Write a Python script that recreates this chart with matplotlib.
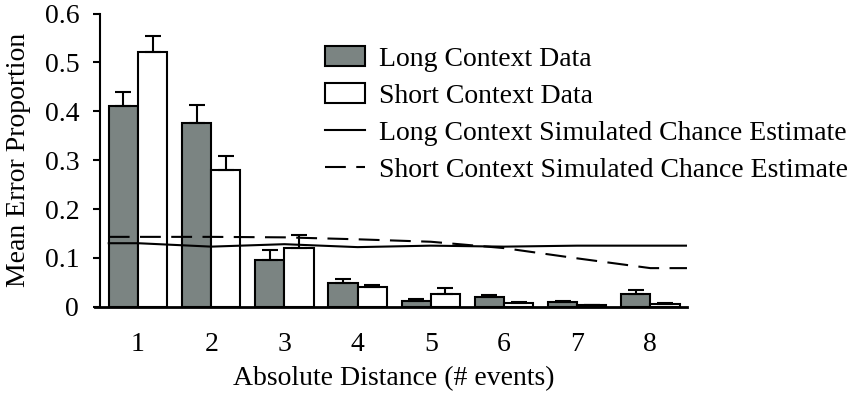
import numpy as np
import matplotlib
matplotlib.use('Agg')
import matplotlib.pyplot as plt

plt.rcParams['font.family'] = ['Liberation Serif', 'DejaVu Serif']

# Data
distance = [1, 2, 3, 4, 5, 6, 7, 8]
long_data = [0.411, 0.377, 0.096, 0.048, 0.012, 0.020, 0.009, 0.026]
long_err = [0.028, 0.036, 0.020, 0.009, 0.003, 0.003, 0.003, 0.009]
short_data = [0.521, 0.279, 0.121, 0.040, 0.027, 0.007, 0.003, 0.005]
short_err = [0.034, 0.030, 0.026, 0.004, 0.011, 0.002, 0.001, 0.002]

# Simulated chance estimates (extended to the plot edges)
sim_x = [0.6, 1, 2, 3, 4, 5, 6, 7, 8, 8.5]
long_sim = [0.130, 0.130, 0.123, 0.128, 0.122, 0.125, 0.123, 0.125, 0.125, 0.125]
short_sim = [0.143, 0.143, 0.143, 0.142, 0.138, 0.133, 0.120, 0.099, 0.079, 0.079]

gray = '#7b8482'
w = 0.4
x = np.array(distance)
fs = 20

fig = plt.figure(figsize=(8.5, 3.95), dpi=100)
ax = fig.add_axes([0.1176, 0.2235, 0.6906, 0.742])

b1 = ax.bar(x - w/2, long_data, w, color=gray, edgecolor='black', linewidth=1.5,
            yerr=[np.zeros(8), long_err], capsize=6,
            error_kw=dict(elinewidth=1.5, capthick=1.5, ecolor='black'),
            label='Long Context Data', zorder=2)
b2 = ax.bar(x + w/2, short_data, w, color='white', edgecolor='black', linewidth=1.5,
            yerr=[np.zeros(8), short_err], capsize=6,
            error_kw=dict(elinewidth=1.5, capthick=1.5, ecolor='black'),
            label='Short Context Data', zorder=2)
l1, = ax.plot(sim_x, long_sim, color='black', lw=1.5,
              label='Long Context Simulated Chance Estimate', zorder=3)
l2, = ax.plot(sim_x, short_sim, color='black', lw=1.5, linestyle=(0, (10, 5)),
              label='Short Context Simulated Chance Estimate', zorder=3)

ax.set_xlim(0.48, 8.5)
ax.set_ylim(0, 0.6)
ax.set_xticks(distance)
ax.set_yticks([0, 0.1, 0.2, 0.3, 0.4, 0.5, 0.6])
ax.set_yticklabels(['0', '0.1', '0.2', '0.3', '0.4', '0.5', '0.6'])
ax.tick_params(axis='x', length=0, pad=18, labelsize=fs)
ax.tick_params(axis='y', length=5, width=1.5, pad=10, labelsize=fs)
for s in ['top', 'right']:
    ax.spines[s].set_visible(False)
ax.spines['left'].set_linewidth(1.5)
ax.spines['bottom'].set_linewidth(2)
ax.spines['bottom'].set_bounds(0.41, 8.5)

ax.set_xlabel('Absolute Distance (# events)', fontsize=fs, labelpad=7)
ax.set_ylabel('Mean Error Proportion', fontsize=fs, labelpad=10)

fig.legend(handles=[b1, b2, l1, l2], loc='upper left',
           bbox_to_anchor=(0.382, 0.883), frameon=False,
           fontsize=fs, handlelength=1.45, handletextpad=0.5,
           labelspacing=0.42, borderpad=0, borderaxespad=0)

fig.savefig('out.png', dpi=100)
